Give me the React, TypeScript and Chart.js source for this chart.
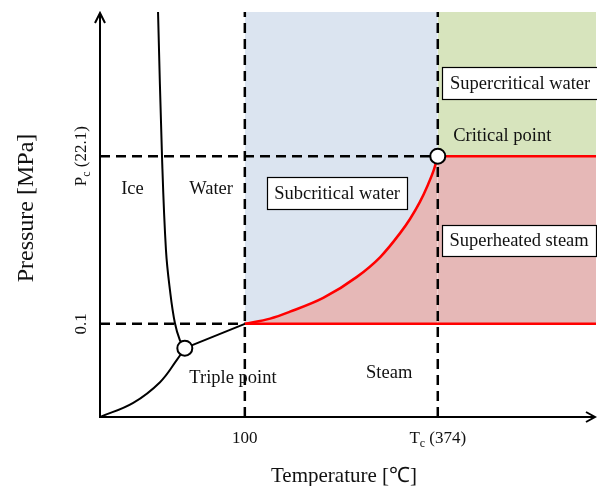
import React, { useEffect, useRef } from "react";
import { Chart, registerables } from "chart.js";

Chart.register(...registerables);

// ---- schematic axes (unitless, 0..100) ----
const X_MAX = 100;
const Y_MAX = 100;
const T_100 = 29.2; // 100 ℃
const T_C = 68.1; // Tc (374 ℃)
const P_01 = 23.0; // 0.1 MPa
const P_C = 64.4; // Pc (22.1 MPa)

// ---- phase boundary curves (schematic) ----
const meltingCurve: number[][] = [
  [11.7, 100], [12.5, 64.4], [13.3, 41.2], [14.1, 31.4], [15.1, 23.2], [16.1, 19.0], [17.1, 17.0],
];
const sublimationCurve: number[][] = [
  [0, 0], [6.7, 3.5], [12.1, 8.6], [15.5, 14.1], [17.1, 17.0],
];
const triplePoint: number[] = [17.1, 17.0];
const criticalPoint: number[] = [T_C, P_C];
const vaporCurve: number[][] = [
  [29.2, 23.0], [34.3, 24.3], [38.3, 26.0], [45.0, 29.4], [51.8, 34.6], [56.5, 39.5],
  [60.5, 45.4], [62.5, 48.9], [64.5, 53.1], [66.1, 57.3], [67.3, 61.0], [68.1, 64.4],
];

// ---- texts ----
const xTickLabels = ["100", "T", "c", " (374)"];
const yTickLabels = ["0.1", "P", "c", " (22.1)"];
const xTitle = "Temperature [℃]";
const yTitle = "Pressure [MPa]";
const regionLabels = ["Ice", "Water", "Triple point", "Steam", "Critical point"];
const boxLabels = ["Subcritical water", "Supercritical water", "Superheated steam"];

// ---- layout of the texts (positions in schematic units, sizes in px) ----
const regionLabelPos = [
  [6.55, 56.3], [22.4, 56.3], [26.8, 9.6], [58.3, 10.9], [71.2, 69.4],
];
const boxLabelPos = [
  [47.8, 55.3, 140, 32],
  [84.7, 82.5, 156, 32],
  [84.5, 43.6, 154, 31],
];

const SERIF = '"Liberation Serif", "Times New Roman", serif';
const BLUE = "#dbe4f0";
const GREEN = "#d7e4bd";
const PINK = "#e6b8b7";
const RED = "#ff0000";

const xy = (arr: number[][]) => arr.map(([x, y]) => ({ x, y }));

function drawSubText(ctx: CanvasRenderingContext2D, main: string, sub: string, rest: string, cx: number, cy: number, size: number) {
  ctx.font = `${size}px ${SERIF}`;
  const w1 = ctx.measureText(main).width;
  const w3 = ctx.measureText(rest).width;
  ctx.font = `${Math.round(size * 0.68)}px ${SERIF}`;
  const w2 = ctx.measureText(sub).width;
  let x0 = cx - (w1 + w2 + w3) / 2;
  ctx.textAlign = "left";
  ctx.textBaseline = "alphabetic";
  ctx.font = `${size}px ${SERIF}`;
  ctx.fillText(main, x0, cy);
  x0 += w1;
  ctx.font = `${Math.round(size * 0.68)}px ${SERIF}`;
  ctx.fillText(sub, x0, cy + 4);
  x0 += w2;
  ctx.font = `${size}px ${SERIF}`;
  ctx.fillText(rest, x0, cy);
}

const textPlugin = {
  id: "phaseText",
  afterDatasetsDraw(chart: any) {
    const { ctx, chartArea: a, scales } = chart;
    const px = (v: number) => scales.x.getPixelForValue(v);
    const py = (v: number) => scales.y.getPixelForValue(v);
    ctx.save();
    ctx.setLineDash([]);
    ctx.strokeStyle = "#000";
    ctx.lineWidth = 2;
    ctx.lineCap = "butt";
    ctx.lineJoin = "miter";
    // axes
    ctx.beginPath();
    ctx.moveTo(a.left, a.bottom);
    ctx.lineTo(a.left, a.top + 1);
    ctx.moveTo(a.left - 1, a.bottom);
    ctx.lineTo(a.right - 1, a.bottom);
    ctx.stroke();
    ctx.beginPath();
    ctx.moveTo(a.left - 5, a.top + 11);
    ctx.lineTo(a.left, a.top + 1);
    ctx.lineTo(a.left + 5, a.top + 11);
    ctx.moveTo(a.right - 10, a.bottom - 5);
    ctx.lineTo(a.right - 1, a.bottom);
    ctx.lineTo(a.right - 10, a.bottom + 5);
    ctx.stroke();

    ctx.fillStyle = "#111";
    // region labels
    ctx.font = `18.5px ${SERIF}`;
    ctx.textBaseline = "middle";
    regionLabels.forEach((t, i) => {
      const [x, y] = regionLabelPos[i];
      ctx.textAlign = i === 4 ? "left" : "center";
      ctx.fillText(t, px(x), py(y));
    });
    // boxed labels
    boxLabels.forEach((t, i) => {
      const [x, y, w, h] = boxLabelPos[i];
      const cx = px(x);
      const cy = py(y);
      ctx.fillStyle = "#fff";
      ctx.fillRect(Math.round(cx - w / 2) + 0.5, Math.round(cy - h / 2) + 0.5, w, h);
      ctx.lineWidth = 1.2;
      ctx.strokeStyle = "#000";
      ctx.strokeRect(Math.round(cx - w / 2) + 0.5, Math.round(cy - h / 2) + 0.5, w, h);
      ctx.fillStyle = "#111";
      ctx.textAlign = "center";
      ctx.textBaseline = "middle";
      ctx.font = `18.5px ${SERIF}`;
      ctx.fillText(t, cx, cy + 1);
    });

    // x tick labels
    ctx.font = `17px ${SERIF}`;
    ctx.textAlign = "center";
    ctx.textBaseline = "alphabetic";
    ctx.fillText(xTickLabels[0], px(T_100), a.bottom + 26);
    drawSubText(ctx, xTickLabels[1], xTickLabels[2], xTickLabels[3], px(T_C), a.bottom + 26, 17);

    // y tick labels (rotated)
    const tickX = a.left - 14;
    ctx.save();
    ctx.translate(tickX, py(P_01));
    ctx.rotate(-Math.PI / 2);
    ctx.font = `17px ${SERIF}`;
    ctx.textAlign = "center";
    ctx.textBaseline = "alphabetic";
    ctx.fillText(yTickLabels[0], 0, 0);
    ctx.restore();
    ctx.save();
    ctx.translate(tickX, py(P_C));
    ctx.rotate(-Math.PI / 2);
    drawSubText(ctx, yTickLabels[1], yTickLabels[2], yTickLabels[3], 0, 0, 17);
    ctx.restore();

    // axis titles
    ctx.font = `21px ${SERIF}`;
    ctx.textAlign = "center";
    ctx.textBaseline = "alphabetic";
    ctx.fillText(xTitle, 344, a.bottom + 65);
    ctx.save();
    ctx.translate(33, 208);
    ctx.rotate(-Math.PI / 2);
    ctx.font = `24px ${SERIF}`;
    ctx.fillText(yTitle, 0, 0);
    ctx.restore();

    ctx.restore();
  },
};

export default function App() {
  const ref = useRef<HTMLCanvasElement | null>(null);
  useEffect(() => {
    if (!ref.current) return;
    const solid = (data: number[][], color: string, width: number, smooth: "monotone" | "bezier" | "none") => ({
      data: xy(data),
      borderColor: color,
      borderWidth: width,
      pointRadius: 0,
      fill: false,
      cubicInterpolationMode: smooth === "monotone" ? ("monotone" as const) : ("default" as const),
      tension: smooth === "bezier" ? 0.4 : 0,
    });
    const dashed = (data: number[][]) => ({
      data: xy(data),
      borderColor: "#000",
      borderWidth: 2.5,
      borderDash: [10, 6],
      pointRadius: 0,
      fill: false,
    });
    const area = (data: number[][], color: string, fill: any) => ({
      data: xy(data),
      borderColor: "transparent",
      borderWidth: 0,
      backgroundColor: color,
      pointRadius: 0,
      fill,
      cubicInterpolationMode: "monotone" as const,
    });
    const chart = new Chart(ref.current, {
      type: "line",
      data: {
        datasets: [
          {
            data: xy([triplePoint, criticalPoint]),
            showLine: false,
            pointRadius: 7.5,
            pointBackgroundColor: "#fff",
            pointBorderColor: "#000",
            pointBorderWidth: 2,
            borderWidth: 0,
            borderColor: "transparent",
            clip: false,
          } as any,
          solid(meltingCurve, "#000", 2, "bezier"),
          solid(sublimationCurve, "#000", 2, "bezier"),
          solid([triplePoint, [T_100, P_01]], "#000", 2, "none"),
          solid(vaporCurve, RED, 2.5, "monotone"),
          solid([[T_100, P_01], [X_MAX, P_01]], RED, 2.5, "none"),
          solid([[T_C, P_C], [X_MAX, P_C]], RED, 2.5, "none"),
          dashed([[T_100, 0], [T_100, Y_MAX]]),
          dashed([[T_C, 0], [T_C, Y_MAX]]),
          dashed([[0, P_C], [T_C, P_C]]),
          dashed([[0, P_01], [T_100, P_01]]),
          area(vaporCurve, PINK, { value: P_01 }),
          area([[T_C, P_C], [X_MAX, P_C]], PINK, { value: P_01 }),
          area(vaporCurve, BLUE, "end"),
          area([[T_C, P_C], [X_MAX, P_C]], GREEN, "end"),
        ],
      },
      options: {
        animation: false,
        responsive: false,
        maintainAspectRatio: false,
        layout: { autoPadding: false, padding: { left: 100, top: 12, right: 1, bottom: 69 } },
        scales: {
          x: { type: "linear", min: 0, max: X_MAX, display: false },
          y: { type: "linear", min: 0, max: Y_MAX, display: false },
        },
        plugins: { legend: { display: false }, tooltip: { enabled: false } },
        elements: { point: { radius: 0 } },
      },
      plugins: [textPlugin],
    } as any);
    return () => chart.destroy();
  }, []);
  return (
    <div style={{ position: "absolute", left: 0, top: 0, width: 597, height: 486, background: "#fff" }}>
      <canvas ref={ref} width={597} height={486} style={{ display: "block", width: 597, height: 486 }} />
    </div>
  );
}
